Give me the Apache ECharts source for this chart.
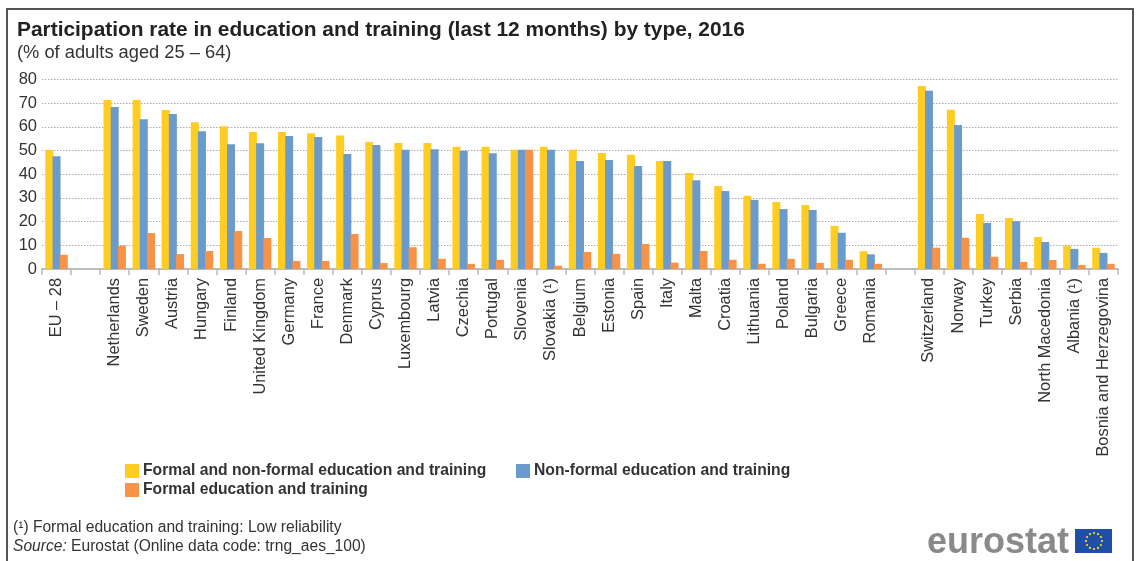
<!DOCTYPE html>
<html><head><meta charset="utf-8">
<style>html,body{margin:0;padding:0;background:#fff}#c{width:1136px;height:561px}</style>
<script src="https://cdn.jsdelivr.net/npm/echarts@6/dist/echarts.min.js"></script>
</head><body><div id="c"></div>
<script>
const categories = ['EU – 28','','Netherlands','Sweden','Austria','Hungary','Finland','United Kingdom','Germany','France','Denmark','Cyprus','Luxembourg','Latvia','Czechia','Portugal','Slovenia','Slovakia (¹)','Belgium','Estonia','Spain','Italy','Malta','Croatia','Lithuania','Poland','Bulgaria','Greece','Romania',' ','Switzerland','Norway','Turkey','Serbia','North Macedonia','Albania (¹)','Bosnia and Herzegovina'];
const formalAndNonFormal = [50.2,null,71.3,71.3,67.1,62,60.3,57.8,57.8,57.3,56.4,53.6,53.2,53.2,51.6,51.6,50.3,51.6,50.3,49,48.2,45.6,40.5,35,30.9,28.3,27,18.2,7.5,null,77.3,67.2,23.2,21.5,13.5,9.8,9];
const nonFormal = [47.6,null,68.4,63.2,65.4,58.2,52.7,53.1,56.1,55.7,48.5,52.3,50.3,50.6,49.9,48.9,50.3,50.3,45.6,46,43.5,45.6,37.5,32.9,29.2,25.3,24.9,15.3,6.2,null,75.2,60.8,19.4,20.2,11.4,8.5,6.8];
const formal = [6,null,9.8,15.2,6.3,7.6,16,13.1,3.4,3.4,14.8,2.5,9.2,4.3,2.2,3.9,50.3,1.4,7.2,6.4,10.6,2.7,7.6,3.9,2.2,4.3,2.6,3.9,2.2,null,9,13.2,5.2,3,3.8,1.7,2.2];
const seriesNames = ['Formal and non-formal education and training','Non-formal education and training','Formal education and training'];
const colors = ['#FFCC22','#6A9BCC','#F79247'];
const FONT = '"Liberation Sans", Arial, sans-serif';
const TXT = '#333333';

const legendAt = (name,left,top)=>({
  data:[name],left,top,orient:'horizontal',padding:0,itemWidth:14,itemHeight:14,itemGap:0,
  icon:'rect',selectedMode:false,
  textStyle:{fontFamily:FONT,fontSize:15.7,fontWeight:'bold',color:TXT,padding:[0,0,0,-1]}
});

const stars = [];
for(let i=0;i<12;i++){
  const a=i/12*Math.PI*2;
  stars.push({type:'circle',shape:{cx:1094+8*Math.cos(a),cy:541+8*Math.sin(a),r:1.1},style:{fill:'#FFDD22'},silent:true});
}

const chart = echarts.init(document.getElementById('c'),null,{renderer:'canvas'});
chart.setOption({
  animation:false,
  backgroundColor:'#fff',
  textStyle:{fontFamily:FONT},
  title:[
    {text:'Participation rate in education and training (last 12 months) by type, 2016',left:17,top:20,padding:0,
     textStyle:{fontFamily:FONT,fontSize:20.9,fontWeight:'bold',color:'#222'}},
    {text:'(% of adults aged 25 – 64)',left:17,top:44,padding:0,
     textStyle:{fontFamily:FONT,fontSize:18.3,fontWeight:'normal',color:TXT}}
  ],
  legend:[legendAt(seriesNames[0],125,463),legendAt(seriesNames[1],516,463),legendAt(seriesNames[2],125,482)],
  grid:{left:42,right:18,top:79.5,bottom:292,containLabel:false},
  xAxis:{type:'category',data:categories,boundaryGap:true,
    axisLine:{lineStyle:{color:'#BBBBBB',width:2}},
    axisTick:{show:true,alignWithLabel:false,length:6,lineStyle:{color:'#BBBBBB',width:1.5}},
    axisLabel:{interval:0,rotate:90,fontFamily:FONT,fontSize:16.4,color:TXT,margin:9},
    splitLine:{show:false}},
  yAxis:{type:'value',min:0,max:80,interval:10,
    axisLine:{show:false},axisTick:{show:false},
    axisLabel:{fontFamily:FONT,fontSize:16.5,color:TXT,margin:5},
    splitLine:{lineStyle:{color:'#ABABAB',type:[1.5,1.5],width:1}}},
  series:[formalAndNonFormal,nonFormal,formal].map((d,i)=>({
    type:'bar',name:seriesNames[i],data:d,barWidth:8,barGap:'-10%',
    itemStyle:{color:colors[i]}
  })),
  graphic:[
    {type:'rect',shape:{x:7,y:9,width:1126,height:570},style:{fill:'none',stroke:'#555555',lineWidth:2},silent:true,z:-1},
    {type:'text',left:13,top:520,silent:true,style:{text:'(¹) Formal education and training: Low reliability',font:'15.6px '+FONT,fill:TXT}},
    {type:'text',left:13,top:539,silent:true,style:{
      text:'{i|Source:} Eurostat (Online data code: trng_aes_100)',font:'15.6px '+FONT,fill:TXT,
      rich:{i:{fontStyle:'italic',font:'italic 15.6px '+FONT,fill:TXT}}}},
    {type:'text',left:927,top:525,silent:true,style:{text:'eurostat',font:'bold 36px '+FONT,fill:'#8A8A8A'}},
    {type:'rect',shape:{x:1075,y:529,width:37,height:24},style:{fill:'#1F4FA8'},silent:true},
    ...stars
  ]
});
</script></body></html>
